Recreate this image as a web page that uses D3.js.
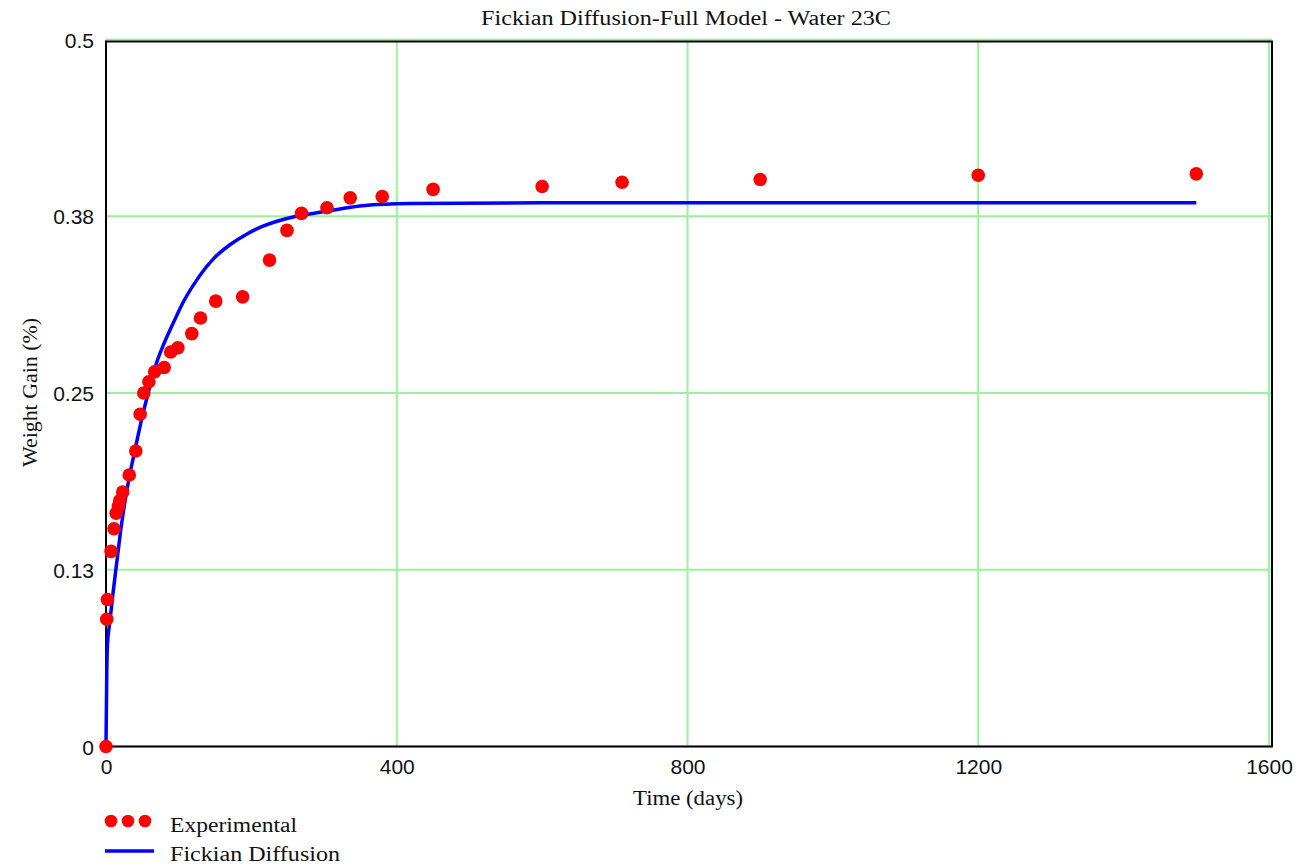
<!DOCTYPE html>
<html>
<head>
<meta charset="utf-8">
<script src="https://cdn.jsdelivr.net/npm/d3@7"></script>
<style>
  html, body { margin: 0; padding: 0; background: #fff; }
  svg { display: block; }
</style>
</head>
<body>
<script>
// Experimental weight-gain measurements (days, %)
const expDays = [0, 1, 2, 7, 11, 14, 17, 19, 23, 32, 41, 47, 52, 59, 67, 80, 89, 99, 118, 130, 151, 188, 225, 249, 269, 304, 336, 380, 450, 600, 710, 900, 1200, 1500];
const expGain = [0, 0.090, 0.104, 0.138, 0.154, 0.165, 0.170, 0.174, 0.180, 0.192, 0.209, 0.235, 0.250, 0.258, 0.265, 0.268, 0.279, 0.282, 0.292, 0.303, 0.315, 0.318, 0.344, 0.365, 0.377, 0.381, 0.388, 0.389, 0.394, 0.396, 0.399, 0.401, 0.404, 0.405];

// Fickian diffusion model curve (days, %)
const fitDays = [0, 1, 2, 5, 10, 15, 20, 26, 33, 40, 48, 58, 70, 79, 93, 106, 125, 148, 171, 194, 216, 239, 262, 290, 320, 353, 418, 600, 900, 1200, 1500];
const fitGain = [0, 0.050, 0.072, 0.087, 0.110, 0.131, 0.152, 0.173, 0.193, 0.210, 0.229, 0.250, 0.272, 0.284, 0.300, 0.314, 0.330, 0.345, 0.355, 0.3625, 0.368, 0.372, 0.375, 0.3775, 0.380, 0.3825, 0.384, 0.3845, 0.3845, 0.3845, 0.3845];

// Axis ticks and their printed labels
const xTicks = [0, 400, 800, 1200, 1600];
const xTickLabels = ["0", "400", "800", "1200", "1600"];
const yTicks = [0, 0.125, 0.25, 0.375, 0.5];
const yTickLabels = ["0", "0.13", "0.25", "0.38", "0.5"];

const W = 1303, H = 867;
const plotL = 106, plotR = 1269, plotT = 39.5, plotB = 746.5;
const GRID = "#96f596";
const SERIF = "'Liberation Serif', 'Times New Roman', serif";
const SANS = "'Liberation Sans', Arial, sans-serif";

const svg = d3.select("body").append("svg")
  .attr("width", W).attr("height", H);

const x = d3.scaleLinear().domain([0, 1600]).range([plotL, plotR]);
const y = d3.scaleLinear().domain([0, 0.5]).range([plotB, plotT]);

// Grid lines
const grid = svg.append("g");
grid.selectAll("line.gx").data(xTicks).join("line")
  .attr("class", "gx")
  .attr("x1", d => x(d)).attr("x2", d => x(d))
  .attr("y1", plotT).attr("y2", plotB)
  .attr("stroke", GRID).attr("stroke-width", 2);
grid.selectAll("line.gy").data(yTicks).join("line")
  .attr("class", "gy")
  .attr("x1", plotL).attr("x2", plotR + 3)
  .attr("y1", d => y(d)).attr("y2", d => y(d))
  .attr("stroke", GRID).attr("stroke-width", 2);

// Plot frame
svg.append("path")
  .attr("d", `M${plotL},${plotT + 2}H${plotR + 3}V${plotB}H${plotL}Z`)
  .attr("stroke", "#000").attr("stroke-width", 2).attr("fill", "none");

// Tick labels
const xAxis = d3.axisBottom(x).tickValues(xTicks).tickSize(0).tickPadding(0)
  .tickFormat((d, i) => xTickLabels[i]);
const gx = svg.append("g").attr("transform", `translate(0,${plotB})`).call(xAxis);
gx.select(".domain").remove();
gx.selectAll("text")
  .attr("y", 27).attr("dy", null)
  .attr("font-family", SANS).attr("font-size", 21).attr("fill", "#111");

const yAxis = d3.axisLeft(y).tickValues(yTicks).tickSize(0).tickPadding(12)
  .tickFormat((d, i) => yTickLabels[i]);
const gy = svg.append("g").attr("transform", `translate(${plotL},0)`).call(yAxis);
gy.select(".domain").remove();
gy.selectAll("text")
  .attr("dy", "0.36em")
  .attr("font-family", SANS).attr("font-size", 21).attr("fill", "#111");

// Model curve
const line = d3.line().x((d, i) => x(fitDays[i])).y(d => y(d)).curve(d3.curveMonotoneX);
svg.append("path")
  .datum(fitGain)
  .attr("d", line)
  .attr("fill", "none")
  .attr("stroke", "#0000ff")
  .attr("stroke-width", 3.5);

// Experimental points
svg.append("g").selectAll("circle").data(expGain).join("circle")
  .attr("cx", (d, i) => x(expDays[i]))
  .attr("cy", d => y(d))
  .attr("r", 6.8)
  .attr("fill", "#ff0000");

// Titles
svg.append("text")
  .attr("x", 481).attr("y", 25)
  .attr("font-family", SERIF).attr("font-size", 20).attr("fill", "#111")
  .attr("textLength", 410).attr("lengthAdjust", "spacingAndGlyphs")
  .text("Fickian Diffusion-Full Model - Water 23C");

svg.append("text")
  .attr("x", 633).attr("y", 805)
  .attr("font-family", SERIF).attr("font-size", 20).attr("fill", "#111")
  .attr("textLength", 110).attr("lengthAdjust", "spacingAndGlyphs")
  .text("Time (days)");

svg.append("text")
  .attr("transform", "translate(37,467) rotate(-90)")
  .attr("font-family", SERIF).attr("font-size", 20).attr("fill", "#111")
  .attr("textLength", 149).attr("lengthAdjust", "spacingAndGlyphs")
  .text("Weight Gain (%)");

// Legend
const legend = svg.append("g");
legend.selectAll("circle").data([111, 128, 145]).join("circle")
  .attr("cx", d => d).attr("cy", 821).attr("r", 6.3).attr("fill", "#ff0000");
legend.append("text")
  .attr("x", 170).attr("y", 832)
  .attr("font-family", SERIF).attr("font-size", 20).attr("fill", "#111")
  .attr("textLength", 127).attr("lengthAdjust", "spacingAndGlyphs")
  .text("Experimental");
legend.append("line")
  .attr("x1", 105).attr("x2", 154).attr("y1", 851).attr("y2", 851)
  .attr("stroke", "#0000ff").attr("stroke-width", 3.5);
legend.append("text")
  .attr("x", 170).attr("y", 861)
  .attr("font-family", SERIF).attr("font-size", 20).attr("fill", "#111")
  .attr("textLength", 170).attr("lengthAdjust", "spacingAndGlyphs")
  .text("Fickian Diffusion");
</script>
</body>
</html>
